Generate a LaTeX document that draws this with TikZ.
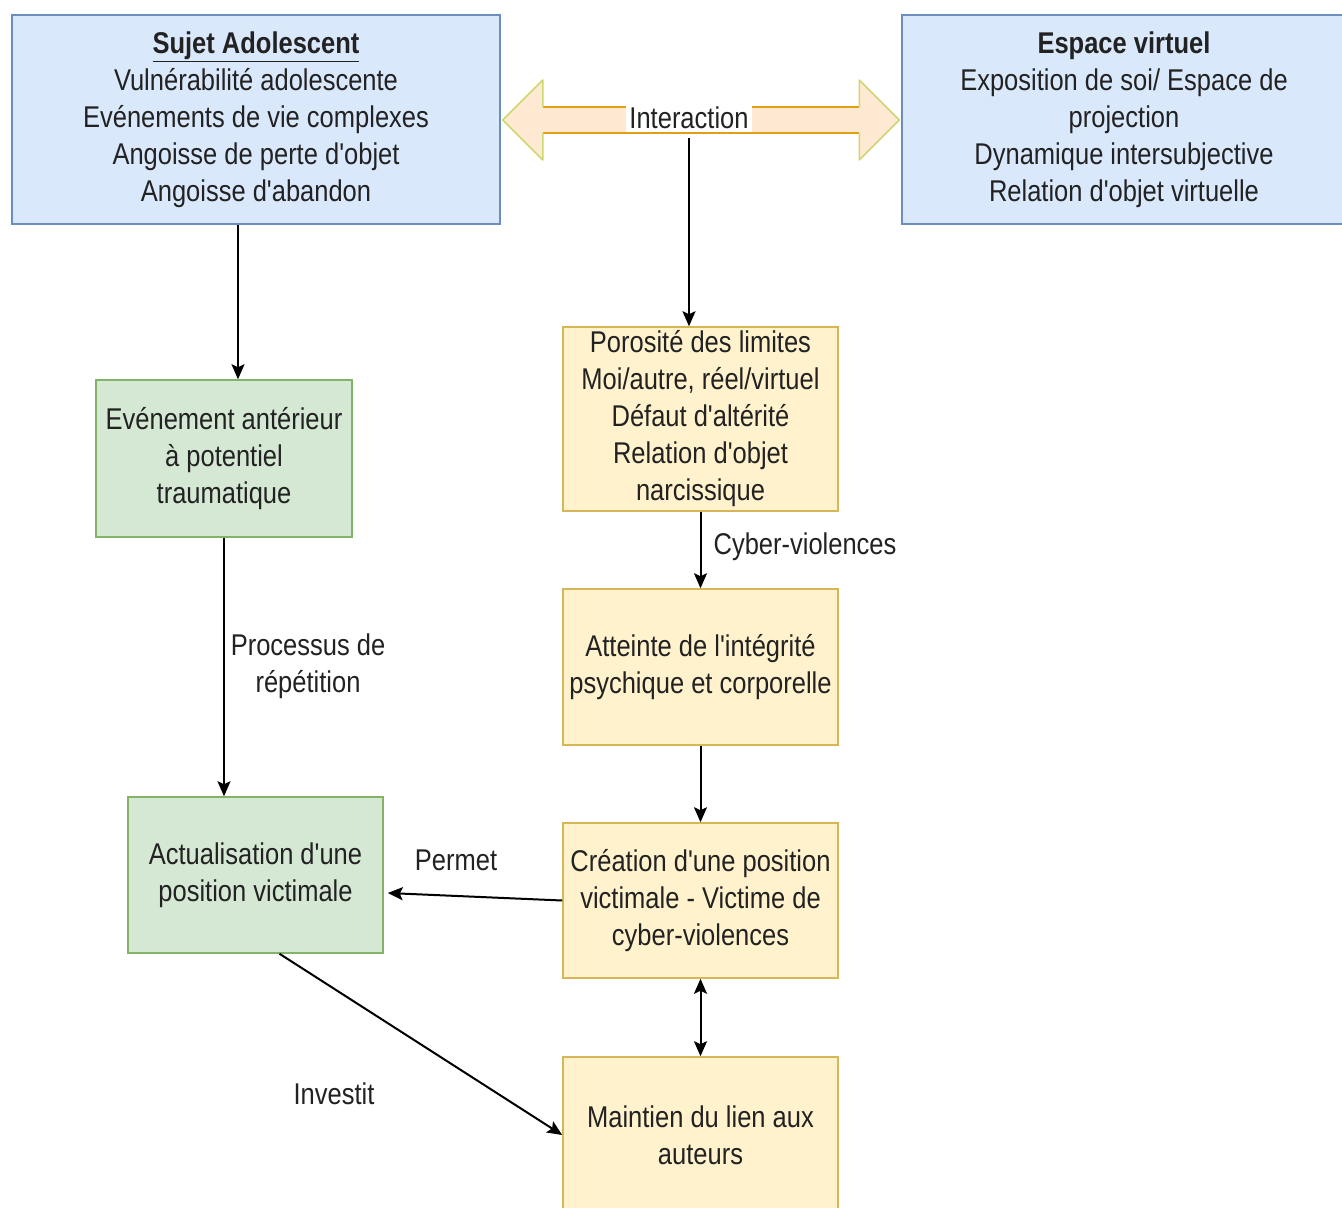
\documentclass[tikz,border=0pt]{standalone}
\usepackage{fontspec}
\setmainfont{Liberation Sans}[FakeStretch=0.85, Ligatures=TeXOff]
\usetikzlibrary{arrows.meta,calc}
\definecolor{bfill}{HTML}{DAE8FC}
\definecolor{bdraw}{HTML}{6C8EBF}
\definecolor{gfill}{HTML}{D5E8D4}
\definecolor{gdraw}{HTML}{82B366}
\definecolor{yfill}{HTML}{FFF2CC}
\definecolor{ydraw}{HTML}{D6B656}
\definecolor{ofill}{HTML}{FFE9D2}
\definecolor{odraw}{HTML}{E0A010}
\definecolor{hdraw}{HTML}{CCD870}
\definecolor{txt}{HTML}{222222}
\begin{document}
\begin{tikzpicture}[x=1pt,y=-1pt,
  tfont/.style={font=\fontsize{30}{37}\selectfont},
  box/.style={draw, line width=1.5pt, align=center, inner sep=0pt, text=txt, tfont},
  bluebox/.style={box, fill=bfill, draw=bdraw},
  greenbox/.style={box, fill=gfill, draw=gdraw},
  yellowbox/.style={box, fill=yfill, draw=ydraw},
  lbl/.style={text=txt, align=center, tfont, inner sep=3pt},
  arr/.style={line width=2pt, -{Stealth[length=15pt,width=13pt,inset=3pt]}},
  darr/.style={line width=2pt, {Stealth[length=15pt,width=13pt,inset=3pt]}-{Stealth[length=15pt,width=13pt,inset=3pt]}}
]
\useasboundingbox (0,0) rectangle (1342,1208);
\clip (0,0) rectangle (1342,1208);
\fill[white] (0,0) rectangle (1342,1208);

% boxes
\node[bluebox, minimum width=488pt, minimum height=209pt] (suj) at (256,119.5)
  {\textbf{\underline{Sujet Adolescent}}\\Vulnérabilité adolescente\\Evénements de vie complexes\\Angoisse de perte d'objet\\Angoisse d'abandon};
\node[bluebox, minimum width=444pt, minimum height=209pt] (esp) at (1124,119.5)
  {\textbf{Espace virtuel}\\Exposition de soi/ Espace de\\projection\\Dynamique intersubjective\\Relation d'objet virtuelle};

\node[yellowbox, minimum width=275pt, minimum height=184pt] (por) at (700.5,419)
  {Porosité des limites\\Moi/autre, réel/virtuel\\Défaut d'altérité\\Relation d'objet\\narcissique};
\node[yellowbox, minimum width=275pt, minimum height=156pt] (att) at (700.5,667)
  {Atteinte de l'intégrité\\psychique et corporelle};
\node[yellowbox, minimum width=275pt, minimum height=155pt] (cre) at (700.5,900.5)
  {Création d'une position\\victimale - Victime de\\cyber-violences};
\node[yellowbox, minimum width=275pt, minimum height=156pt] (mai) at (700.5,1135)
  {Maintien du lien aux\\auteurs};

\node[greenbox, minimum width=256pt, minimum height=157pt] (eva) at (224,458.5)
  {Evénement antérieur\\à potentiel\\traumatique};
\node[greenbox, minimum width=255pt, minimum height=156pt] (act) at (255.5,875)
  {Actualisation d'une\\position victimale};

% big double arrow between the top boxes
\fill[ofill] ($(suj.east)+(2,0.5)$) -- ++(40,-40) -- ++(0,27) -- ($(esp.west)+(-42,-12.5)$) -- ++(0,-27) -- ++(40,40)
  -- ++(-40,40) -- ++(0,-27) -- ($(suj.east)+(42,13.5)$) -- ++(0,27) -- cycle;
\draw[odraw, line width=1.5pt] ($(suj.east)+(42,-12.5)$) -- ($(esp.west)+(-42,-12.5)$)
  ($(suj.east)+(42,13.5)$) -- ($(esp.west)+(-42,13.5)$);
\draw[hdraw, line width=1.5pt, line join=round]
  ($(suj.east)+(42,-12.5)$) -- ++(0,-27) -- ($(suj.east)+(2,0.5)$) -- ++(40,40) -- ++(0,-27)
  ($(esp.west)+(-42,-12.5)$) -- ++(0,-27) -- ($(esp.west)+(-2,0.5)$) -- ++(-40,40) -- ++(0,-27);
\node[lbl, fill=white] (int) at (689,118) {Interaction};

% connectors
\draw[line width=2pt, -{Stealth[length=15pt,width=13pt,inset=3pt]}, shorten <=6pt] (int.south) -- (int.south |- por.north);
\draw[arr] ([xshift=-18pt]suj.south) -- ([xshift=-18pt]suj.south |- eva.north);
\draw[arr] (eva.south) -- (eva.south |- act.north);
\draw[arr] (por.south) -- (att.north);
\draw[arr] (att.south) -- (cre.north);
\draw[darr] (cre.south) -- (mai.north);
\draw[arr] (cre.west) -- ([shift={(4,18)}]act.east);
\draw[arr] ([xshift=24pt]act.south) -- (mai.west);

% labels
\node[lbl] (lcv) at (805,547) {Cyber-violences};
\node[lbl] (lpr) at (308,666) {Processus de\\répétition};
\node[lbl] (lpe) at (456,860) {Permet};
\node[lbl] (lin) at (334,1094) {Investit};
\end{tikzpicture}
\end{document}
